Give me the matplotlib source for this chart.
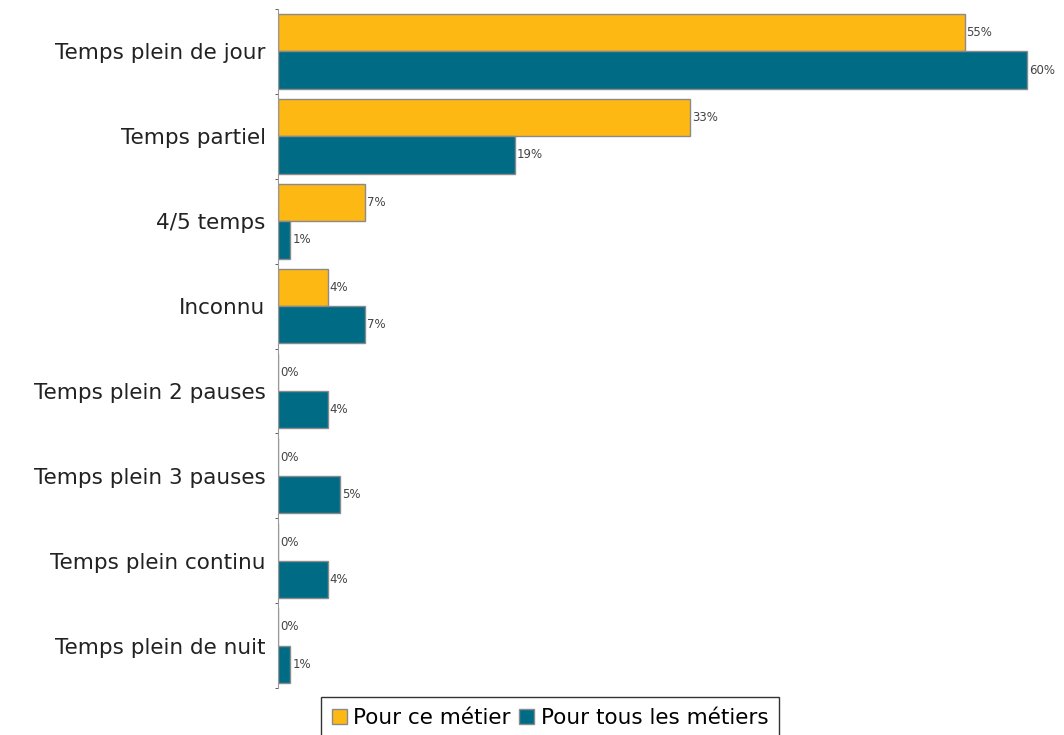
import numpy as np
import matplotlib.pyplot as plt

categories = ["Temps plein de jour", "Temps partiel", "4/5 temps", "Inconnu",
              "Temps plein 2 pauses", "Temps plein 3 pauses",
              "Temps plein continu", "Temps plein de nuit"]
ce_metier = [55, 33, 7, 4, 0, 0, 0, 0]
tous_metiers = [60, 19, 1, 7, 4, 5, 4, 1]
series_names = ["Pour ce métier", "Pour tous les métiers"]

orange = "#FDB813"
teal = "#006B84"
edge = "#8a8a8a"

fig = plt.figure(figsize=(10.64, 7.35), dpi=100)
ax = fig.add_axes([278/1064, 47/735, 774/1064, 679/735])

y = np.arange(len(categories))
h = 0.44
b1 = ax.barh(y - h/2, ce_metier, height=h, color=orange, edgecolor=edge, linewidth=1, label=series_names[0])
b2 = ax.barh(y + h/2, tous_metiers, height=h, color=teal, edgecolor=edge, linewidth=1, label=series_names[1])

# etiquettes de valeur
for bars, vals in [(b1, ce_metier), (b2, tous_metiers)]:
    for bar, v in zip(bars, vals):
        ax.text(bar.get_width() + 0.15, bar.get_y() + bar.get_height()/2, f"{v}%",
                va="center", ha="left", fontsize=8.5, color="#444444")

ax.set_xlim(0, 62)
ax.set_ylim(len(categories) - 0.5, -0.5)
ax.set_yticks(y)
ax.set_yticklabels(categories, fontsize=15.5, color="#222222")
ax.set_yticks(np.arange(len(categories) + 1) - 0.5, minor=True)
ax.tick_params(axis="y", which="major", length=0, pad=9)
ax.tick_params(axis="y", which="minor", length=2, color="#444444")
ax.set_xticks([])
for s in ["top", "right", "bottom"]:
    ax.spines[s].set_visible(False)
ax.spines["left"].set_color("#999999")

leg = fig.legend(handles=[b1, b2], loc="upper center", bbox_to_anchor=(550/1064, 38/735),
                 ncol=2, fontsize=15.5, frameon=True, fancybox=False, handlelength=0.7,
                 handleheight=0.7, handletextpad=0.3, columnspacing=0.4, borderpad=0.5,
                 borderaxespad=0)
leg.get_frame().set_edgecolor("black")
leg.get_frame().set_linewidth(1)

fig.savefig("out.png", dpi=100)
